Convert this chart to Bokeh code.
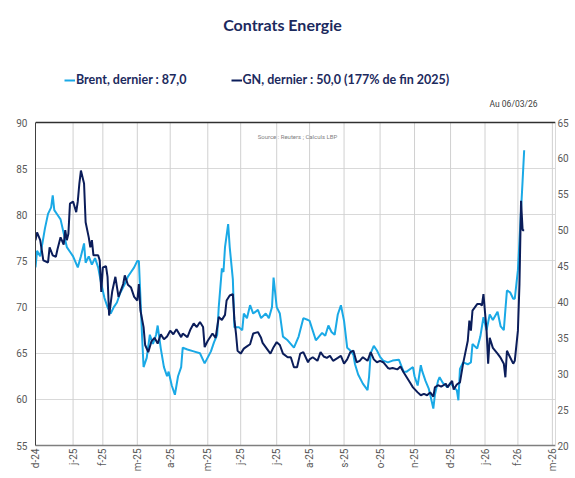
from bokeh.plotting import figure
from bokeh.models import (Range1d, LinearAxis, FixedTicker, Label, Span, Legend, LegendItem)
from bokeh.embed import file_html
from bokeh.resources import INLINE
import math

# ---- data -------------------------------------------------------------
# x = trading-session index, month labels placed at the sessions shown
tick_pos = [0, 24, 43, 65, 86, 110, 131, 154, 175, 197, 220, 242, 265, 287, 308, 330]
tick_labels = ["d-24", "j-25", "f-25", "m-25", "a-25", "m-25", "j-25", "j-25",
               "a-25", "s-25", "o-25", "n-25", "d-25", "j-26", "f-26", "m-26"]

brent_x = [0, 1, 3, 4, 6, 8, 10, 11, 12, 14, 16, 18, 20, 22, 24, 27, 29, 31, 32, 34,
           36, 38, 40, 42, 44, 46, 48, 50, 52, 54, 57, 59, 61, 63, 65, 66, 68, 69, 71, 73,
           75, 77, 78, 80, 82, 84, 85, 87, 89, 91, 93, 94, 97, 101, 105, 108, 112, 114, 116, 117,
           119, 120, 121, 123, 124, 126, 127, 130, 132, 133, 135, 137, 139, 142, 144, 147, 149, 151, 152, 154,
           156, 158, 161, 165, 168, 171, 174, 175, 179, 181, 183, 185, 187, 189, 191, 193, 195, 197, 199, 201,
           203, 204, 206, 209, 212, 213, 214, 216, 218, 220, 222, 225, 228, 232, 235, 237, 241, 242, 244, 246,
           247, 249, 251, 252, 254, 255, 257, 258, 260, 263, 265, 267, 269, 270, 271, 273, 276, 278, 279, 282,
           284, 286, 288, 290, 292, 295, 297, 299, 300, 301, 303, 305, 306, 308, 309, 310, 311, 312]
brent = [74.3, 76.1, 75.5, 76.5, 78.5, 80.1, 80.8, 82.1, 80.5, 80.0, 79.5, 78.0, 76.5, 76.0, 75.5, 74.3, 75.5, 76.9, 74.8, 75.5,
         74.6, 75.3, 74.3, 72.5, 71.0, 70.0, 69.3, 70.0, 70.5, 71.5, 72.5, 73.3, 73.8, 74.3, 75.0, 75.0, 67.0, 63.5, 64.5, 67.0,
         66.0, 67.0, 68.0, 65.5, 63.5, 62.5, 63.0, 61.5, 60.5, 62.5, 63.5, 65.6, 65.4, 65.2, 65.0, 63.9, 65.2, 66.2, 67.0, 70.0,
         74.2, 73.8, 76.5, 79.0, 76.5, 73.0, 67.8, 67.8, 67.5, 69.3, 68.8, 70.2, 69.3, 69.7, 68.8, 69.3, 68.8, 70.0, 73.2, 70.0,
         69.3, 66.8, 66.4, 65.6, 66.8, 68.8, 68.6, 68.5, 66.4, 66.8, 67.2, 66.9, 68.0, 67.3, 67.0, 69.2, 70.2, 68.5, 65.6, 65.3,
         64.8, 63.8, 62.7, 61.7, 61.0, 62.5, 65.0, 65.8, 65.3, 64.6, 64.2, 64.0, 64.2, 64.3, 63.0, 63.0, 63.5, 62.5, 61.5, 63.7,
         63.0, 62.0, 61.2, 60.5, 59.0, 60.5, 62.0, 62.4, 61.8, 61.3, 61.8, 61.3, 61.0, 59.9, 63.3, 64.0, 63.8, 64.0, 66.0, 65.5,
         66.8, 68.9, 67.5, 69.2, 68.6, 69.5, 67.9, 67.5, 69.7, 71.8, 71.6, 70.9, 70.9, 74.0, 77.2, 80.5, 83.7, 87.0]

gn_x = [0, 1, 3, 5, 8, 9, 11, 13, 14, 16, 18, 19, 20, 21, 22, 24, 26, 27, 28, 29,
        31, 32, 34, 35, 36, 37, 40, 41, 42, 43, 45, 46, 47, 49, 51, 53, 56, 57, 59, 61,
        63, 65, 66, 67, 69, 70, 72, 74, 76, 78, 80, 82, 84, 86, 88, 90, 93, 94, 97, 99,
        101, 103, 105, 107, 108, 110, 113, 115, 117, 119, 121, 122, 124, 126, 127, 128, 129, 131, 133, 135,
        137, 139, 142, 144, 145, 148, 150, 152, 154, 156, 158, 161, 163, 165, 167, 169, 171, 174, 175, 177,
        180, 182, 184, 186, 188, 190, 193, 195, 197, 199, 201, 203, 205, 207, 209, 212, 214, 216, 218, 220,
        222, 225, 226, 228, 231, 233, 235, 237, 239, 241, 244, 246, 248, 250, 252, 254, 255, 257, 259, 262,
        263, 266, 267, 269, 271, 273, 276, 277, 278, 279, 282, 284, 285, 286, 288, 289, 290, 292, 295, 297,
        299, 300, 301, 303, 305, 306, 308, 309, 310, 311, 312]
gn = [48.6, 49.7, 48.6, 45.8, 45.5, 47.6, 46.5, 46.3, 47.3, 49.0, 48.0, 50.0, 48.6, 49.5, 53.7, 54.0, 52.5, 54.0, 56.5, 58.3,
      56.5, 51.1, 49.0, 47.6, 48.6, 46.5, 46.5, 45.8, 41.4, 44.8, 45.0, 43.5, 38.1, 41.5, 43.5, 40.7, 42.5, 43.7, 42.4, 42.0,
      40.7, 40.2, 42.5, 38.8, 36.5, 34.0, 33.0, 34.5, 35.0, 34.2, 35.5, 34.8, 35.2, 36.0, 35.5, 36.2, 35.1, 35.6, 35.1, 36.2,
      37.0, 36.5, 37.2, 36.5, 33.7, 34.6, 35.6, 35.0, 37.9, 37.5, 38.2, 40.2, 40.9, 41.1, 37.5, 35.6, 33.2, 32.8, 33.5, 33.8,
      34.1, 35.6, 35.8, 35.0, 34.3, 33.4, 32.8, 33.7, 34.4, 34.0, 32.8, 32.3, 32.3, 30.9, 30.9, 32.8, 33.0, 31.6, 32.0, 32.3,
      31.8, 33.0, 32.4, 32.2, 32.5, 31.8, 32.2, 32.5, 31.4, 32.0, 33.0, 33.2, 31.6, 31.8, 32.3, 31.8, 33.0, 32.0, 31.6, 31.8,
      31.6, 30.8, 30.7, 30.8, 30.6, 31.0, 30.2, 29.5, 28.8, 28.1, 27.4, 27.0, 27.2, 27.0, 27.4, 26.8, 28.1, 28.4, 28.2, 28.6,
      28.1, 29.0, 27.8, 28.5, 28.8, 31.4, 34.6, 37.4, 36.0, 38.8, 39.7, 39.7, 39.5, 41.1, 36.0, 31.4, 35.0, 33.6, 32.8, 32.2,
      31.4, 29.5, 33.2, 32.3, 31.4, 31.8, 36.0, 42.5, 54.1, 50.0, 50.0]

left_ticks = [55, 60, 65, 70, 75, 80, 85, 90]
right_ticks = [20, 25, 30, 35, 40, 45, 50, 55, 60, 65]

title_text = "Contrats Energie"
brent_label = "Brent, dernier : 87,0"
gn_label = "GN, dernier : 50,0 (177% de fin 2025)"
date_text = "Au 06/03/26"
source_text = "Source : Reuters ; Calculs LBP"

# ---- style / layout ---------------------------------------------------
BRENT_COL = "#1aa9e6"
GN_COL = "#0b1d5a"
NAVY_TXT = "#1c2a5e"
AX_TXT = "#595959"
GRID = "#d9d9d9"
FONT = "Roboto"
HFONT = "Lato"

W, H = 575, 478
LEFT, RIGHT, BOTTOM = 35, 20, 33
FRAME_H = H - BOTTOM            # frame runs to the top of the figure
PLOT_H = 323                    # pixel height of the 55..90 band
L_LO, L_HI = left_ticks[0], left_ticks[-1]
R_LO, R_HI = right_ticks[0], right_ticks[-1]
l_top = L_LO + (L_HI - L_LO) * FRAME_H / PLOT_H
r_top = R_LO + (R_HI - R_LO) * FRAME_H / PLOT_H

p = figure(width=W, height=H, output_backend="svg", toolbar_location=None, title=None,
           x_range=Range1d(0, 332), y_range=Range1d(L_LO, l_top),
           min_border_left=LEFT, min_border_right=RIGHT, min_border_top=0, min_border_bottom=BOTTOM)
p.outline_line_color = None
p.background_fill_color = "white"
p.border_fill_color = "white"
p.extra_y_ranges = {"gn": Range1d(R_LO, r_top)}

# grid (vertical lines only across the 55..90 band)
p.xgrid.visible = False
p.ygrid.grid_line_color = GRID
p.ygrid.ticker = FixedTicker(ticks=left_ticks)
p.segment(x0=tick_pos, y0=[L_LO] * len(tick_pos), x1=tick_pos, y1=[L_HI] * len(tick_pos),
          line_color="#d0d0d0", line_width=1)
p.add_layout(Span(location=L_HI, dimension="width", line_color="#303030", line_width=1.3))

r_brent = p.line(brent_x, brent, line_color=BRENT_COL, line_width=2)
r_gn = p.line(gn_x, gn, line_color=GN_COL, line_width=2, y_range_name="gn")

# axes
def no_ticks(ax):
    ax.major_tick_out = 0
    ax.major_tick_in = 0
    ax.minor_tick_out = 0
    ax.minor_tick_in = 0
    ax.major_label_text_font = FONT
    ax.major_label_text_font_size = "10px"
    ax.major_label_text_color = AX_TXT

xa = p.xaxis[0]
no_ticks(xa)
xa.ticker = FixedTicker(ticks=tick_pos)
xa.major_label_overrides = {t: l for t, l in zip(tick_pos, tick_labels)}
xa.major_label_orientation = math.pi / 2
xa.axis_line_color = "#7f7f7f"
xa.axis_line_width = 1.5
xa.major_label_standoff = 3

ya = p.yaxis[0]
no_ticks(ya)
ya.ticker = FixedTicker(ticks=left_ticks)
ya.bounds = (L_LO, L_HI)
ya.axis_line_color = "#404040"
ya.major_label_standoff = 8

ra = LinearAxis(y_range_name="gn", ticker=FixedTicker(ticks=right_ticks), bounds=(R_LO, R_HI))
no_ticks(ra)
ra.axis_line_color = GRID
ra.major_label_standoff = 2
p.add_layout(ra, "right")

# legend
legend = Legend(items=[LegendItem(label=brent_label, renderers=[r_brent]),
                       LegendItem(label=gn_label, renderers=[r_gn])],
                orientation="horizontal", location=(29, 358),
                background_fill_alpha=0, border_line_color=None,
                label_text_font=HFONT, label_text_font_style="bold",
                label_text_font_size="12.5px", label_text_color=NAVY_TXT,
                glyph_width=11, glyph_height=14, label_height=14, label_standoff=1,
                spacing=44, padding=0, margin=0)
p.add_layout(legend)

# texts (screen units measured from frame's lower-left corner)
def lab(x, y, text, size, color, style="normal", align="left", font=HFONT):
    p.add_layout(Label(x=x, y=y, x_units="screen", y_units="screen", text=text,
                       text_font=font, text_font_size=size, text_color=color,
                       text_font_style=style, text_align=align, text_baseline="middle"))

lab(247, 421, title_text, "16px", NAVY_TXT, "bold", "center")
lab(502, 342, date_text, "8.5px", "#404040", "normal", "right", FONT)
lab(262, 309, source_text, "6px", "#7f7f7f", "normal", "center", FONT)

open("out.html", "w").write(file_html(p, INLINE))
